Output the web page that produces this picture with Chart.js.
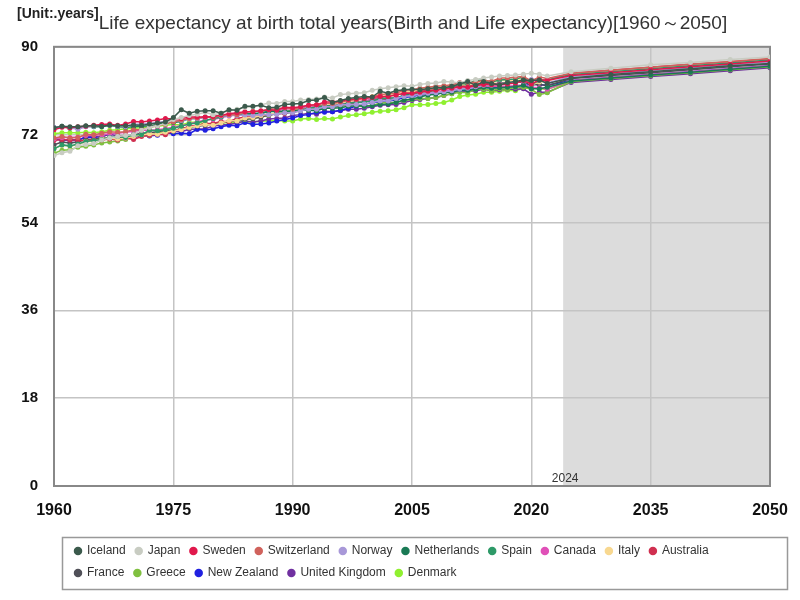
<!DOCTYPE html>
<html>
<head>
<meta charset="utf-8">
<script src="https://cdn.jsdelivr.net/npm/chart.js@4.4.1/dist/chart.umd.min.js"></script>
<style>
    html, body { margin: 0; padding: 0; background: #fff; }
    #wrap { width: 800px; height: 600px; }
</style>
</head>
<body>
<div id="wrap"><canvas id="chart"></canvas></div>
<script>
// Years: annual 1960-2022, then projections every 5 years
const years = [
    1960, 1961, 1962, 1963, 1964, 1965, 1966, 1967, 1968, 1969,
    1970, 1971, 1972, 1973, 1974, 1975, 1976, 1977, 1978, 1979,
    1980, 1981, 1982, 1983, 1984, 1985, 1986, 1987, 1988, 1989,
    1990, 1991, 1992, 1993, 1994, 1995, 1996, 1997, 1998, 1999,
    2000, 2001, 2002, 2003, 2004, 2005, 2006, 2007, 2008, 2009,
    2010, 2011, 2012, 2013, 2014, 2015, 2016, 2017, 2018, 2019,
    2020, 2021, 2022,
    2025, 2030, 2035, 2040, 2045, 2050
];

const iceland = [
    73.4, 73.7, 73.6, 73.6, 73.8, 73.8, 73.7, 73.9, 73.8, 73.8,
    74.0, 73.9, 74.2, 74.4, 74.6, 75.5, 77.1, 76.4, 76.8, 76.9,
    76.9, 76.4, 77.1, 77.0, 77.8, 77.8, 78.0, 77.5, 77.6, 78.2,
    78.3, 78.4, 79.0, 79.1, 79.6, 78.6, 79.0, 79.4, 79.6, 79.8,
    79.7, 80.9, 80.5, 81.0, 81.2, 81.3, 81.2, 81.4, 81.6, 81.6,
    81.9, 82.4, 82.9, 82.1, 82.9, 82.5, 82.2, 82.7, 82.9, 83.2,
    83.1, 83.2, 82.5,
    83.6, 84.3, 84.9, 85.5, 86.1, 86.6
];
const japan = [
    67.7, 68.3, 68.6, 69.7, 70.0, 70.2, 70.9, 71.3, 71.6, 71.8,
    72.0, 72.9, 73.5, 73.8, 74.3, 75.1, 75.5, 75.9, 76.2, 76.6,
    76.1, 76.4, 77.0, 77.2, 77.6, 77.7, 78.1, 78.5, 78.4, 78.8,
    78.8, 79.1, 79.2, 79.3, 79.7, 79.5, 80.2, 80.4, 80.5, 80.6,
    81.1, 81.4, 81.6, 81.8, 82.0, 81.9, 82.3, 82.5, 82.6, 82.9,
    82.8, 82.6, 83.1, 83.3, 83.6, 83.8, 84.0, 84.1, 84.2, 84.4,
    84.6, 84.4, 84.0,
    84.9, 85.6, 86.3, 86.8, 87.4, 87.9
];
const sweden = [
    73.0, 73.5, 73.4, 73.6, 73.7, 73.9, 74.1, 74.2, 73.9, 74.2,
    74.7, 74.6, 74.8, 75.0, 75.3, 75.2, 75.3, 75.6, 75.6, 75.6,
    75.7, 76.0, 76.3, 76.5, 76.7, 76.7, 76.9, 77.1, 77.0, 77.6,
    77.5, 77.7, 78.0, 78.1, 78.7, 78.7, 78.9, 79.2, 79.3, 79.4,
    79.6, 79.8, 79.8, 80.1, 80.5, 80.5, 80.7, 80.9, 81.1, 81.3,
    81.5, 81.8, 81.7, 82.0, 82.3, 82.2, 82.2, 82.4, 82.6, 83.1,
    82.4, 83.2, 83.1,
    84.1, 84.7, 85.3, 85.9, 86.5, 87.1
];
const switzerland = [
    71.3, 71.6, 71.3, 71.4, 72.1, 72.0, 72.3, 72.6, 72.5, 72.6,
    73.0, 73.0, 73.5, 73.8, 74.2, 74.6, 75.0, 75.3, 75.4, 75.6,
    75.5, 75.9, 76.1, 76.1, 76.6, 76.8, 76.8, 77.2, 77.3, 77.5,
    77.2, 77.6, 78.0, 78.1, 78.4, 78.4, 78.7, 79.0, 79.2, 79.6,
    79.7, 80.2, 80.4, 80.5, 81.1, 81.2, 81.5, 81.7, 81.9, 82.0,
    82.2, 82.7, 82.7, 82.7, 83.2, 82.9, 83.6, 83.6, 83.8, 83.9,
    83.0, 83.8, 83.5,
    84.6, 85.2, 85.8, 86.4, 87.0, 87.6
];
const norway = [
    73.5, 73.6, 73.4, 73.1, 73.6, 73.7, 73.9, 74.0, 73.7, 73.6,
    74.1, 74.2, 74.3, 74.5, 74.7, 74.8, 74.9, 75.2, 75.3, 75.5,
    75.7, 75.8, 75.9, 75.9, 76.0, 75.9, 76.2, 76.1, 76.2, 76.5,
    76.5, 76.9, 77.2, 77.2, 77.7, 77.7, 78.1, 78.1, 78.2, 78.3,
    78.6, 78.9, 78.9, 79.4, 79.8, 80.0, 80.3, 80.5, 80.6, 80.8,
    81.0, 81.3, 81.5, 81.8, 82.1, 82.1, 82.4, 82.5, 82.8, 83.0,
    83.3, 83.2, 82.6,
    83.9, 84.5, 85.1, 85.7, 86.3, 86.9
];
const netherlands = [
    73.4, 73.7, 73.3, 73.3, 73.7, 73.6, 73.6, 73.9, 73.6, 73.5,
    73.6, 73.7, 73.8, 74.1, 74.6, 74.5, 74.7, 75.3, 75.3, 75.6,
    75.7, 75.9, 76.0, 76.3, 76.2, 76.3, 76.3, 76.8, 76.8, 76.7,
    76.9, 77.0, 77.0, 76.9, 77.4, 77.4, 77.5, 77.8, 77.9, 77.8,
    77.9, 78.2, 78.3, 78.6, 79.1, 79.3, 79.7, 80.1, 80.3, 80.6,
    80.7, 81.2, 81.1, 81.3, 81.7, 81.5, 81.6, 81.7, 81.8, 82.1,
    81.4, 81.4, 81.7,
    83.0, 83.6, 84.2, 84.8, 85.4, 86.0
];
const spain = [
    69.1, 69.9, 69.7, 70.1, 70.6, 70.8, 71.0, 71.4, 71.6, 71.4,
    72.0, 72.0, 72.9, 72.8, 73.0, 73.3, 73.7, 74.2, 74.4, 74.9,
    75.3, 75.6, 76.1, 76.0, 76.3, 76.3, 76.5, 76.8, 76.7, 76.8,
    76.8, 77.0, 77.4, 77.6, 77.9, 77.9, 78.1, 78.5, 78.6, 78.7,
    78.9, 79.4, 79.5, 79.5, 80.0, 80.2, 80.8, 80.8, 81.1, 81.5,
    81.6, 82.5, 82.4, 83.1, 83.2, 82.8, 83.2, 83.3, 83.4, 83.8,
    82.3, 83.1, 83.2,
    84.3, 84.9, 85.5, 86.1, 86.7, 87.3
];
const canada = [
    71.1, 71.4, 71.4, 71.5, 71.8, 71.9, 72.0, 72.2, 72.3, 72.5,
    72.7, 72.9, 72.9, 73.0, 73.2, 73.5, 73.8, 74.2, 74.6, 75.0,
    75.1, 75.5, 75.8, 76.1, 76.4, 76.3, 76.4, 76.8, 76.9, 77.2,
    77.4, 77.5, 77.7, 77.6, 77.8, 77.9, 78.2, 78.5, 78.7, 78.9,
    79.2, 79.3, 79.4, 79.6, 79.8, 80.0, 80.3, 80.5, 80.6, 80.9,
    81.2, 81.4, 81.6, 81.7, 81.8, 81.9, 81.9, 81.9, 82.0, 82.2,
    81.7, 81.6, 81.3,
    83.1, 83.7, 84.3, 84.9, 85.5, 86.1
];
const italy = [
    69.1, 69.8, 69.6, 69.9, 70.6, 70.6, 71.2, 71.3, 71.1, 71.3,
    71.6, 72.0, 72.2, 72.1, 72.5, 72.8, 73.0, 73.5, 73.8, 74.1,
    73.9, 74.4, 74.9, 74.8, 75.4, 75.5, 75.9, 76.3, 76.4, 76.8,
    77.0, 77.0, 77.4, 77.6, 77.9, 78.2, 78.5, 78.8, 78.9, 79.4,
    79.8, 80.1, 80.2, 80.0, 80.8, 80.8, 81.3, 81.4, 81.5, 81.6,
    82.0, 82.2, 82.2, 82.7, 83.1, 82.5, 83.2, 83.0, 83.3, 83.5,
    82.2, 82.8, 83.0,
    84.3, 84.9, 85.5, 86.1, 86.7, 87.3
];
const australia = [
    70.8, 71.0, 70.9, 70.9, 70.7, 71.0, 70.9, 71.1, 70.9, 71.3,
    71.0, 71.6, 71.8, 72.1, 72.0, 72.8, 73.1, 73.7, 73.9, 74.3,
    74.3, 74.7, 74.7, 75.3, 75.6, 75.6, 75.9, 76.2, 76.3, 76.4,
    77.0, 77.3, 77.4, 77.9, 77.9, 77.8, 78.1, 78.5, 78.6, 78.9,
    79.2, 79.6, 79.9, 80.2, 80.5, 80.8, 81.0, 81.3, 81.4, 81.5,
    81.7, 81.9, 82.0, 82.1, 82.3, 82.4, 82.4, 82.5, 82.7, 82.9,
    83.2, 83.3, 83.1,
    84.6, 85.2, 85.8, 86.4, 86.9, 87.5
];
const france = [
    69.9, 70.5, 70.3, 70.5, 71.0, 71.0, 71.4, 71.3, 71.4, 71.3,
    72.1, 72.2, 72.4, 72.6, 72.9, 72.9, 73.2, 73.6, 73.7, 73.9,
    74.1, 74.4, 74.7, 74.8, 75.2, 75.3, 75.6, 76.0, 76.3, 76.4,
    76.6, 76.9, 77.2, 77.2, 77.6, 77.7, 78.0, 78.3, 78.6, 78.8,
    79.1, 79.2, 79.3, 79.2, 80.2, 80.2, 80.8, 81.1, 81.2, 81.4,
    81.7, 82.1, 81.9, 82.2, 82.7, 82.3, 82.6, 82.6, 82.7, 82.8,
    82.2, 82.3, 82.0,
    83.5, 84.1, 84.7, 85.3, 85.9, 86.5
];
const greece = [
    68.2, 68.8, 68.9, 69.4, 69.6, 69.9, 70.3, 70.5, 70.7, 71.0,
    71.6, 71.9, 71.8, 72.4, 72.6, 72.7, 73.2, 73.4, 73.8, 74.0,
    74.3, 74.5, 74.7, 74.9, 75.1, 75.3, 75.6, 75.9, 76.4, 76.7,
    76.9, 77.0, 77.2, 77.3, 77.6, 77.6, 77.8, 78.0, 77.9, 77.8,
    78.0, 78.5, 78.6, 78.6, 79.0, 79.2, 79.4, 79.4, 79.6, 80.0,
    80.4, 80.7, 80.6, 81.3, 81.4, 81.0, 81.4, 81.3, 81.7, 81.7,
    81.3, 80.2, 80.6,
    82.9, 83.5, 84.1, 84.7, 85.3, 85.9
];
const newZealand = [
    71.2, 70.9, 71.0, 70.9, 71.4, 71.4, 71.1, 71.5, 71.0, 71.3,
    71.3, 71.9, 71.7, 71.9, 72.4, 72.2, 72.3, 72.2, 73.1, 72.9,
    73.2, 73.6, 73.9, 73.8, 74.5, 74.1, 74.2, 74.4, 74.8, 75.1,
    75.4, 75.9, 76.1, 76.6, 76.6, 76.7, 77.0, 77.4, 77.8, 78.2,
    78.6, 78.7, 78.9, 79.1, 79.6, 79.8, 80.1, 80.2, 80.4, 80.6,
    80.9, 81.0, 81.2, 81.4, 81.6, 81.6, 81.6, 81.8, 81.9, 82.0,
    82.3, 82.2, 82.1,
    83.1, 83.7, 84.3, 84.9, 85.5, 86.1
];
const unitedKingdom = [
    71.1, 70.9, 70.8, 70.8, 71.6, 71.6, 71.5, 72.1, 71.7, 71.7,
    72.0, 72.2, 72.0, 72.1, 72.3, 72.7, 72.6, 73.1, 73.1, 73.2,
    73.7, 74.0, 74.1, 74.4, 74.8, 74.6, 74.8, 75.2, 75.3, 75.4,
    75.9, 76.1, 76.4, 76.2, 76.8, 76.7, 76.9, 77.2, 77.2, 77.4,
    77.7, 78.0, 78.1, 78.2, 78.6, 79.0, 79.2, 79.4, 79.6, 80.0,
    80.4, 80.9, 80.9, 81.0, 81.3, 81.0, 81.2, 81.3, 81.3, 81.4,
    80.3, 80.7, 80.7,
    82.7, 83.3, 83.9, 84.5, 85.1, 85.7
];
const denmark = [
    72.2, 72.4, 72.4, 72.4, 72.5, 72.4, 72.6, 72.9, 73.0, 73.2,
    73.3, 73.4, 73.6, 73.7, 73.9, 74.1, 74.0, 74.5, 74.6, 74.2,
    74.1, 74.4, 74.5, 74.5, 74.6, 74.6, 74.8, 74.8, 74.9, 74.8,
    74.8, 75.2, 75.3, 75.1, 75.3, 75.2, 75.6, 75.9, 76.1, 76.3,
    76.6, 76.8, 76.9, 77.1, 77.5, 78.1, 78.1, 78.2, 78.4, 78.6,
    79.1, 79.8, 80.1, 80.3, 80.7, 80.7, 80.9, 81.1, 81.0, 81.5,
    81.6, 81.4, 81.3,
    82.8, 83.4, 84.0, 84.6, 85.2, 85.8
];

const countries = ['Iceland', 'Japan', 'Sweden', 'Switzerland', 'Norway', 'Netherlands', 'Spain',
    'Canada', 'Italy', 'Australia', 'France', 'Greece', 'New Zealand', 'United Kingdom', 'Denmark'];
const series = [iceland, japan, sweden, switzerland, norway, netherlands, spain,
    canada, italy, australia, france, greece, newZealand, unitedKingdom, denmark];
const colors = ['#3b5a4c', '#c8ccc2', '#e0184c', '#d0625c', '#a898d8', '#1a7a55', '#2e9a68',
    '#e050b8', '#f8d890', '#d03050', '#505058', '#80c040', '#2020e0', '#7030a0', '#90f030'];

const projectionStart = 2024;
const FONT = "'Liberation Sans', Arial, sans-serif";

const datasets = countries.map((name, i) => ({
    label: name,
    data: years.map((yr, j) => ({ x: yr, y: series[i][j] })),
    borderColor: colors[i],
    backgroundColor: colors[i],
    pointBackgroundColor: colors[i],
    pointBorderWidth: 0,
    pointRadius: 2.5,
    pointStyle: 'circle',
    borderWidth: 1.5,
    tension: 0
}));

// shaded projection band, frame, unit label, legend border
const decor = {
    id: 'decor',
    beforeInit(chart) {
        const lg = chart.legend;
        const fit = lg.fit;
        lg.fit = function () {
            this.maxWidth = 700;
            fit.call(this);
        };
    },
    beforeDraw(chart) {
        const { ctx, chartArea: a, scales: { x } } = chart;
        const x0 = x.getPixelForValue(projectionStart);
        ctx.save();
        ctx.fillStyle = '#dcdcdc';
        ctx.fillRect(x0, a.top, a.right - x0, a.bottom - a.top);
        ctx.restore();
        chart.legend.left = 65;
        chart.titleBlock.left = 56;
        chart.titleBlock.right = 770;
    },
    beforeDatasetsDraw(chart) {
        const { ctx, chartArea: a, scales: { x } } = chart;
        ctx.save();
        ctx.strokeStyle = '#888';
        ctx.lineWidth = 2;
        ctx.strokeRect(a.left, a.top, a.right - a.left, a.bottom - a.top);
        ctx.fillStyle = '#333';
        ctx.font = '12px ' + FONT;
        ctx.textAlign = 'center';
        ctx.textBaseline = 'bottom';
        ctx.fillText(String(projectionStart), x.getPixelForValue(projectionStart) + 2, a.bottom - 1);
        ctx.restore();
    },
    afterDraw(chart) {
        const { ctx } = chart;
        ctx.save();
        ctx.fillStyle = '#222';
        ctx.font = 'bold 14px ' + FONT;
        ctx.textAlign = 'left';
        ctx.textBaseline = 'middle';
        ctx.fillText('[Unit:.years]', 17, 14);
        ctx.strokeStyle = '#999';
        ctx.lineWidth = 1.5;
        ctx.strokeRect(62.5, 537.5, 725, 52);
        ctx.restore();
    }
};

new Chart(document.getElementById('chart').getContext('2d'), {
    type: 'line',
    data: { datasets },
    plugins: [decor],
    options: {
        responsive: true,
        maintainAspectRatio: false,
        animation: false,
        layout: { padding: { left: 10, right: 30, top: 0, bottom: 11 } },
        plugins: {
            title: {
                display: true,
                text: 'Life expectancy at birth total years(Birth and Life expectancy)[1960～2050]',
                color: '#333',
                font: { family: FONT, size: 19, weight: 'normal' },
                padding: { top: 12, bottom: 12 }
            },
            legend: {
                position: 'bottom',
                align: 'start',
                labels: {
                    usePointStyle: true,
                    boxWidth: 6,
                    boxHeight: 6,
                    padding: 10,
                    color: '#333',
                    font: { family: FONT, size: 12 }
                }
            },
            tooltip: { enabled: false }
        },
        scales: {
            x: {
                type: 'linear',
                min: 1960,
                max: 2050,
                afterFit: s => { s.height = 49; s.paddingRight = 0; },
                ticks: {
                    stepSize: 15,
                    padding: 15,
                    color: '#111',
                    font: { family: FONT, size: 16, weight: 'bold' },
                    callback: v => String(v)
                },
                grid: { color: '#c4c4c4', lineWidth: 1.5, drawTicks: false },
                border: { display: false }
            },
            y: {
                min: 0,
                max: 90,
                afterFit: s => { s.width = 44; },
                ticks: {
                    stepSize: 18,
                    padding: 16,
                    color: '#111',
                    font: { family: FONT, size: 15, weight: 'bold' }
                },
                grid: { color: '#c4c4c4', lineWidth: 1.5, drawTicks: false },
                border: { display: false }
            }
        }
    }
});
</script>
</body>
</html>
